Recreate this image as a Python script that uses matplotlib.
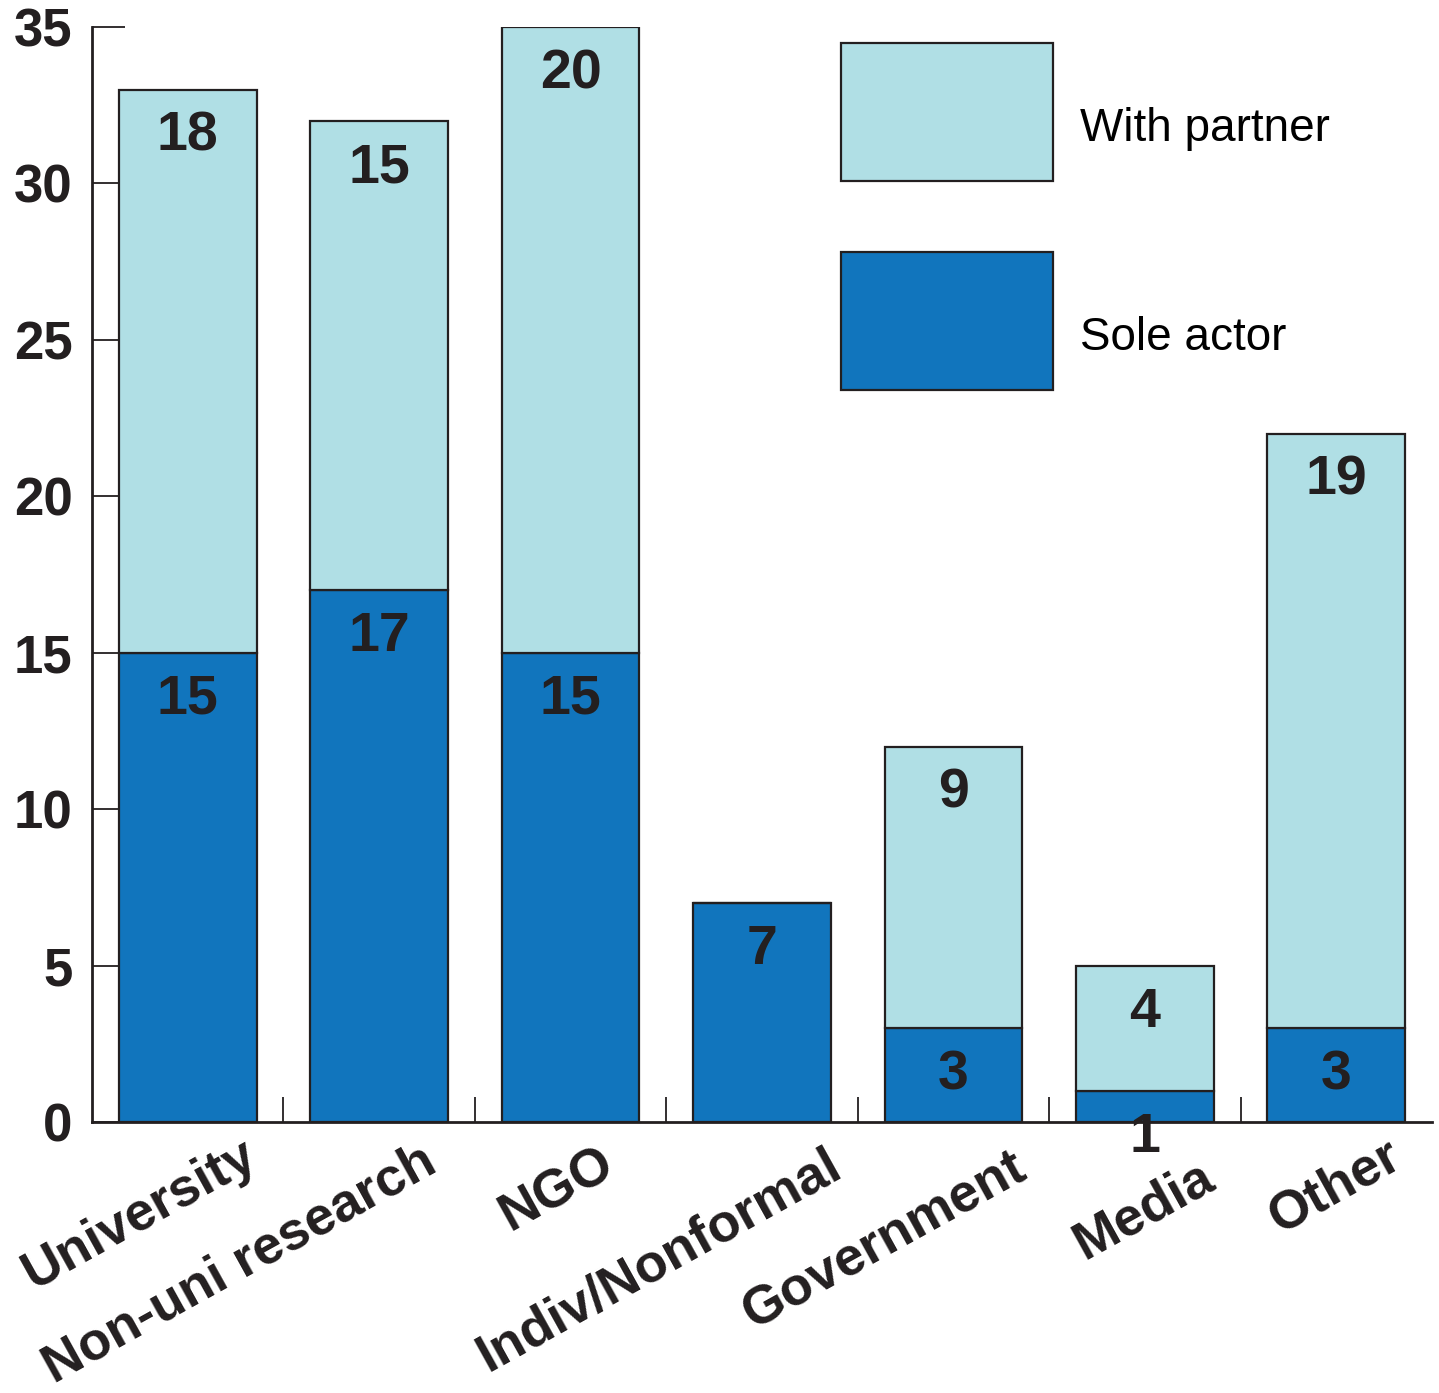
import matplotlib
matplotlib.use("Agg")
import matplotlib.pyplot as plt
import matplotlib.transforms as mtransforms
import numpy as np

categories = ["University", "Non-uni research", "NGO", "Indiv/Nonformal",
              "Government", "Media", "Other"]
sole_actor = [15, 17, 15, 7, 3, 1, 3]
with_partner = [18, 15, 20, 0, 9, 4, 19]
yticks = [0, 5, 10, 15, 20, 25, 30, 35]

# nudges (inches) of the rotated category labels
label_dx = [0.0, -0.12, -0.26, 0.10, 0.04, 0.0, -0.04]
label_dy = [0.0, -0.06, -0.08, -0.10, -0.12, -0.22, 0.0]

dark = "#1175BD"
light = "#B0DFE5"
edge = "#231F20"

plt.rcParams["font.family"] = ["Liberation Sans", "DejaVu Sans"]

fig = plt.figure(figsize=(14.39, 13.93), dpi=100)
ax = fig.add_axes([92 / 1439, 1 - 1122 / 1393, 1340 / 1439, 1095 / 1393])

x = np.arange(len(categories))
w = 0.72
b1 = ax.bar(x, sole_actor, w, color=dark, edgecolor=edge, linewidth=1.6,
            label="Sole actor", zorder=2)
b2 = ax.bar(x, with_partner, w, bottom=sole_actor, color=light, edgecolor=edge,
            linewidth=1.6, label="With partner", zorder=2)

for i in range(len(categories)):
    tops = [sole_actor[i], sole_actor[i] + with_partner[i]]
    vals = [sole_actor[i], with_partner[i]]
    for top, v in zip(tops, vals):
        if v == 0:
            continue
        ax.annotate(str(v), xy=(x[i], top), xytext=(0, -34),
                    textcoords="offset points", ha="center", va="center",
                    fontsize=40, fontweight="bold", color=edge, zorder=5,
                    annotation_clip=False)

ax.set_xlim(-0.5, len(categories) - 0.5)
ax.set_ylim(0, 35)
ax.set_yticks(yticks)
ax.set_yticklabels([str(t) for t in yticks], fontsize=38, fontweight="bold",
                   color=edge)
ax.tick_params(axis="y", direction="in", length=24, width=1.3, pad=14,
               colors=edge)

ax.set_xticks(x)
ax.set_xticks(np.arange(0.5, len(categories) - 0.5, 1.0), minor=True)
ax.tick_params(axis="x", which="major", length=0, pad=0)
ax.tick_params(axis="x", which="minor", direction="in", length=18, width=1.3,
               colors=edge)
ax.set_xticklabels(categories, fontsize=38.5, fontweight="bold", color=edge,
                   rotation=29, ha="right", va="top", rotation_mode="anchor")
for lbl, dx, dy in zip(ax.get_xticklabels(), label_dx, label_dy):
    offset = mtransforms.ScaledTranslation(0.53 + dx, -0.08 + dy,
                                           fig.dpi_scale_trans)
    lbl.set_transform(lbl.get_transform() + offset)

for s in ["top", "right"]:
    ax.spines[s].set_visible(False)
for s in ["left", "bottom"]:
    ax.spines[s].set_linewidth(2)
    ax.spines[s].set_color(edge)

leg = ax.legend(handles=[b2, b1], labels=["With partner", "Sole actor"],
                loc="upper left", bbox_to_anchor=((841 - 92) / 1340, (1122 - 43) / 1095),
                frameon=False, fontsize=33, handlelength=4.62, handleheight=4.25,
                labelspacing=1.55, handletextpad=0.6, borderpad=0,
                borderaxespad=0)
for t in leg.get_texts():
    t.set_transform(t.get_transform() +
                    mtransforms.ScaledTranslation(0, -0.17, fig.dpi_scale_trans))

fig.savefig("out.png", dpi=100)
